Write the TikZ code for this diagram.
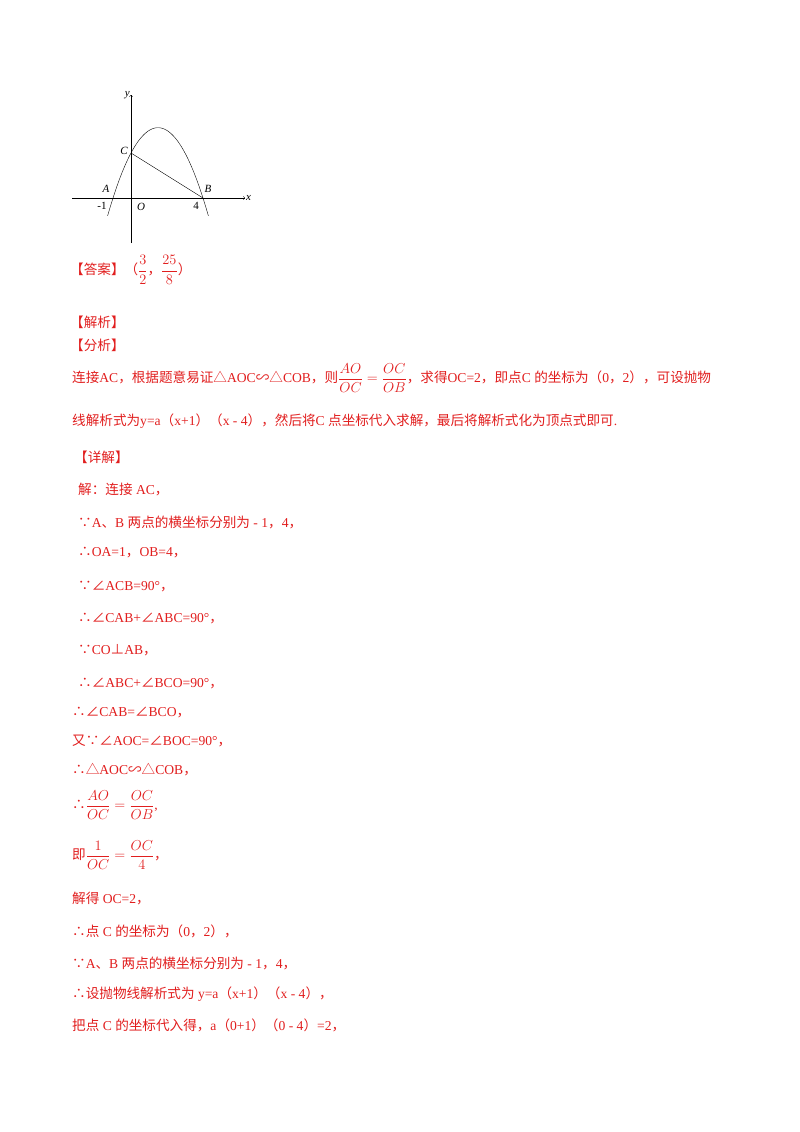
\documentclass[tikz,border=0pt]{standalone}
\usepackage{amsmath}
\usepackage{fontspec}
\setmainfont{Liberation Serif}
\newfontfamily\cjk{Noto Sans CJK SC}
\newcommand{\K}[1]{{\cjk #1}}
\definecolor{ans}{RGB}{225,30,30}
\begin{document}
\begin{tikzpicture}[x=1pt,y=-1pt,
  txt/.style={anchor=west,inner sep=0pt,text=ans,font=\fontsize{13.6}{15}\selectfont},
  lab/.style={inner sep=1pt,font=\fontsize{11}{12}\selectfont\itshape}]
\useasboundingbox (0,0) rectangle (800,1132);
% figure
\draw[->] (72,198) -- (245,198) node[lab,right] (xl) {x};
\draw[->] (131,243) -- (131,95) node[lab,left] (yl) {y};
\draw[domain=-1.3:4.3,samples=80,smooth] plot ({131+18*\x},{198-22.5*(-0.5*(\x+1)*(\x-4))});
\coordinate (C) at (131,153);
\coordinate (B) at (203,198);
\draw (C) -- (B);
\node[lab,anchor=east] (Cl) at (129,151) {C};
\node[lab] (Bl) at (208,189) {B};
\node[lab] (Al) at (106,189) {A};
\node[lab,font=\fontsize{11}{12}\selectfont] (m1) at (102,206) {-1};
\node[lab] (Ol) at (141,207) {O};
\node[lab,font=\fontsize{11}{12}\selectfont] (f4) at (196,206) {4};
% text
\node[txt] (t1) at (70,270) {\K{【答案】（}$\dfrac{3}{2}$\K{，}$\dfrac{25}{8}$\K{）}};
\node[txt] (t2) at (70,322) {\K{【解析】}};
\node[txt] (t3) at (70,345) {\K{【分析】}};
\node[txt] (t4) at (72,378) {\K{连接}AC\K{，根据题意易证△}AOC\K{∽△}COB\K{，则}$\dfrac{AO}{OC}=\dfrac{OC}{OB}$\K{，求得}OC=2\K{，即点}C \K{的坐标为（}0\K{，}2\K{），可设抛物}};
\node[txt] (t5) at (72,421) {\K{线解析式为}y=a\K{（}x+1\K{）（}x - 4\K{），然后将}C \K{点坐标代入求解，最后将解析式化为顶点式即可}.};
\node[txt] (t6) at (74,457) {\K{【详解】}};
\node[txt] (t7) at (78,490) {\K{解：连接} AC\K{，}};
\node[txt] (t8) at (78,522) {\K{∵}A\K{、}B \K{两点的横坐标分别为} - 1\K{，}4\K{，}};
\node[txt] (t9) at (78,553) {\K{∴}OA=1\K{，}OB=4\K{，}};
\node[txt] (t10) at (78,586) {\K{∵∠}ACB=90°\K{，}};
\node[txt] (t11) at (78,618) {\K{∴∠}CAB+\K{∠}ABC=90°\K{，}};
\node[txt] (t12) at (78,650) {\K{∵}CO\K{⊥}AB\K{，}};
\node[txt] (t13) at (78,683) {\K{∴∠}ABC+\K{∠}BCO=90°\K{，}};
\node[txt] (t14) at (72,712) {\K{∴∠}CAB=\K{∠}BCO\K{，}};
\node[txt] (t15) at (72,741) {\K{又∵∠}AOC=\K{∠}BOC=90°\K{，}};
\node[txt] (t16) at (72,770) {\K{∴△}AOC\K{∽△}COB\K{，}};
\node[txt] (t17) at (72,805) {\K{∴}$\dfrac{AO}{OC}=\dfrac{OC}{OB}$,};
\node[txt] (t18) at (72,855) {\K{即}$\dfrac{1}{OC}=\dfrac{OC}{4}$\K{，}};
\node[txt] (t19) at (72,898) {\K{解得} OC=2\K{，}};
\node[txt] (t20) at (72,931) {\K{∴点} C \K{的坐标为（}0\K{，}2\K{），}};
\node[txt] (t21) at (72,963) {\K{∵}A\K{、}B \K{两点的横坐标分别为} - 1\K{，}4\K{，}};
\node[txt] (t22) at (72,994) {\K{∴设抛物线解析式为} y=a\K{（}x+1\K{）（}x - 4\K{），}};
\node[txt] (t23) at (72,1025) {\K{把点} C \K{的坐标代入得，}a\K{（}0+1\K{）（}0 - 4\K{）}=2\K{，}};
\end{tikzpicture}
\end{document}
